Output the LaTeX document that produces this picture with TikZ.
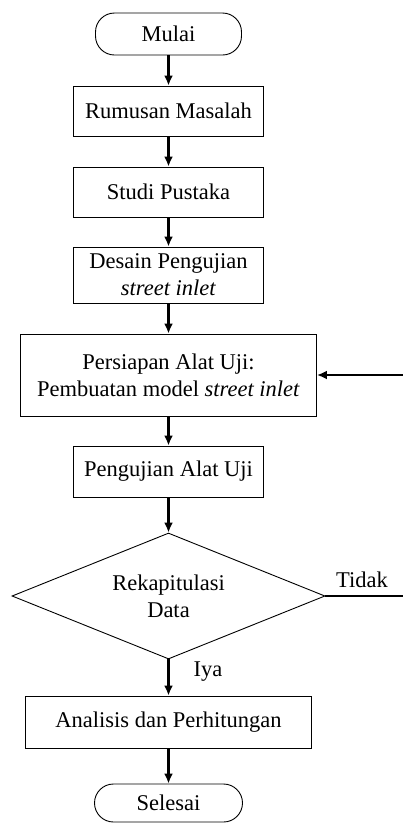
\documentclass[tikz,border=0pt]{standalone}
\usepackage{fontspec}
\setmainfont{Liberation Serif}
\usetikzlibrary{shapes.geometric,arrows.meta}
\begin{document}
\begin{tikzpicture}[x=1pt,y=-1pt,
  every node/.style={font=\fontsize{22.5}{27}\selectfont},
  procbox/.style={draw=black,line width=0.9pt,rectangle,align=center,inner sep=0pt},
  termbox/.style={draw=black,line width=0.9pt,rectangle,rounded corners=19pt,inner sep=0pt,align=center},
  decbox/.style={draw=black,line width=0.9pt,diamond,aspect=2.5,inner sep=0pt,align=center},
  flow/.style={line width=2.4pt,-{Latex[length=10pt,width=9pt]}},
  plain/.style={line width=2.4pt}]
\useasboundingbox (0,0) rectangle (403,823);
\node[termbox,minimum width=146pt,minimum height=42pt] (mulai) at (168.5,34) {Mulai};
\node[procbox,minimum width=190pt,minimum height=50pt] (rumusan) at (168.5,111) {Rumusan Masalah};
\node[procbox,minimum width=190pt,minimum height=50pt] (studi) at (168.5,192) {Studi Pustaka};
\node[procbox,minimum width=190pt,minimum height=56pt] (desain) at (168.5,275) {Desain Pengujian\\\textit{street inlet}};
\node[procbox,minimum width=296pt,minimum height=82pt] (persiapan) at (168.5,375) {Persiapan Alat Uji:\\Pembuatan model \textit{street inlet}};
\node[procbox,minimum width=190pt,minimum height=51pt] (pengujian) at (168.5,471.5) {Pengujian Alat Uji};
\node[decbox,minimum width=313pt,minimum height=126pt] (rekap) at (168.5,596) {Rekapitulasi\\Data};
\node[procbox,minimum width=286pt,minimum height=52pt] (analisis) at (168.5,722) {Analisis dan Perhitungan};
\node[termbox,minimum width=148pt,minimum height=38pt] (selesai) at (168.5,803) {Selesai};
\coordinate (inR) at (403,375);
\coordinate (outR) at (403,596);
\draw[flow] (mulai.south) -- (rumusan.north);
\draw[flow] (rumusan.south) -- (studi.north);
\draw[flow] (studi.south) -- (desain.north);
\draw[flow] (desain.south) -- (persiapan.north);
\draw[flow] (persiapan.south) -- (pengujian.north);
\draw[flow] (pengujian.south) -- (rekap.north);
\draw[flow] (rekap.south) -- (analisis.north);
\draw[flow] (analisis.south) -- (selesai.north);
\draw[flow] (inR) -- (persiapan.east);
\draw[plain] (rekap.east) -- (outR);
\node (tidak) at (362,580) {Tidak};
\node (iya) at (208,672) {Iya};
\end{tikzpicture}
\end{document}
